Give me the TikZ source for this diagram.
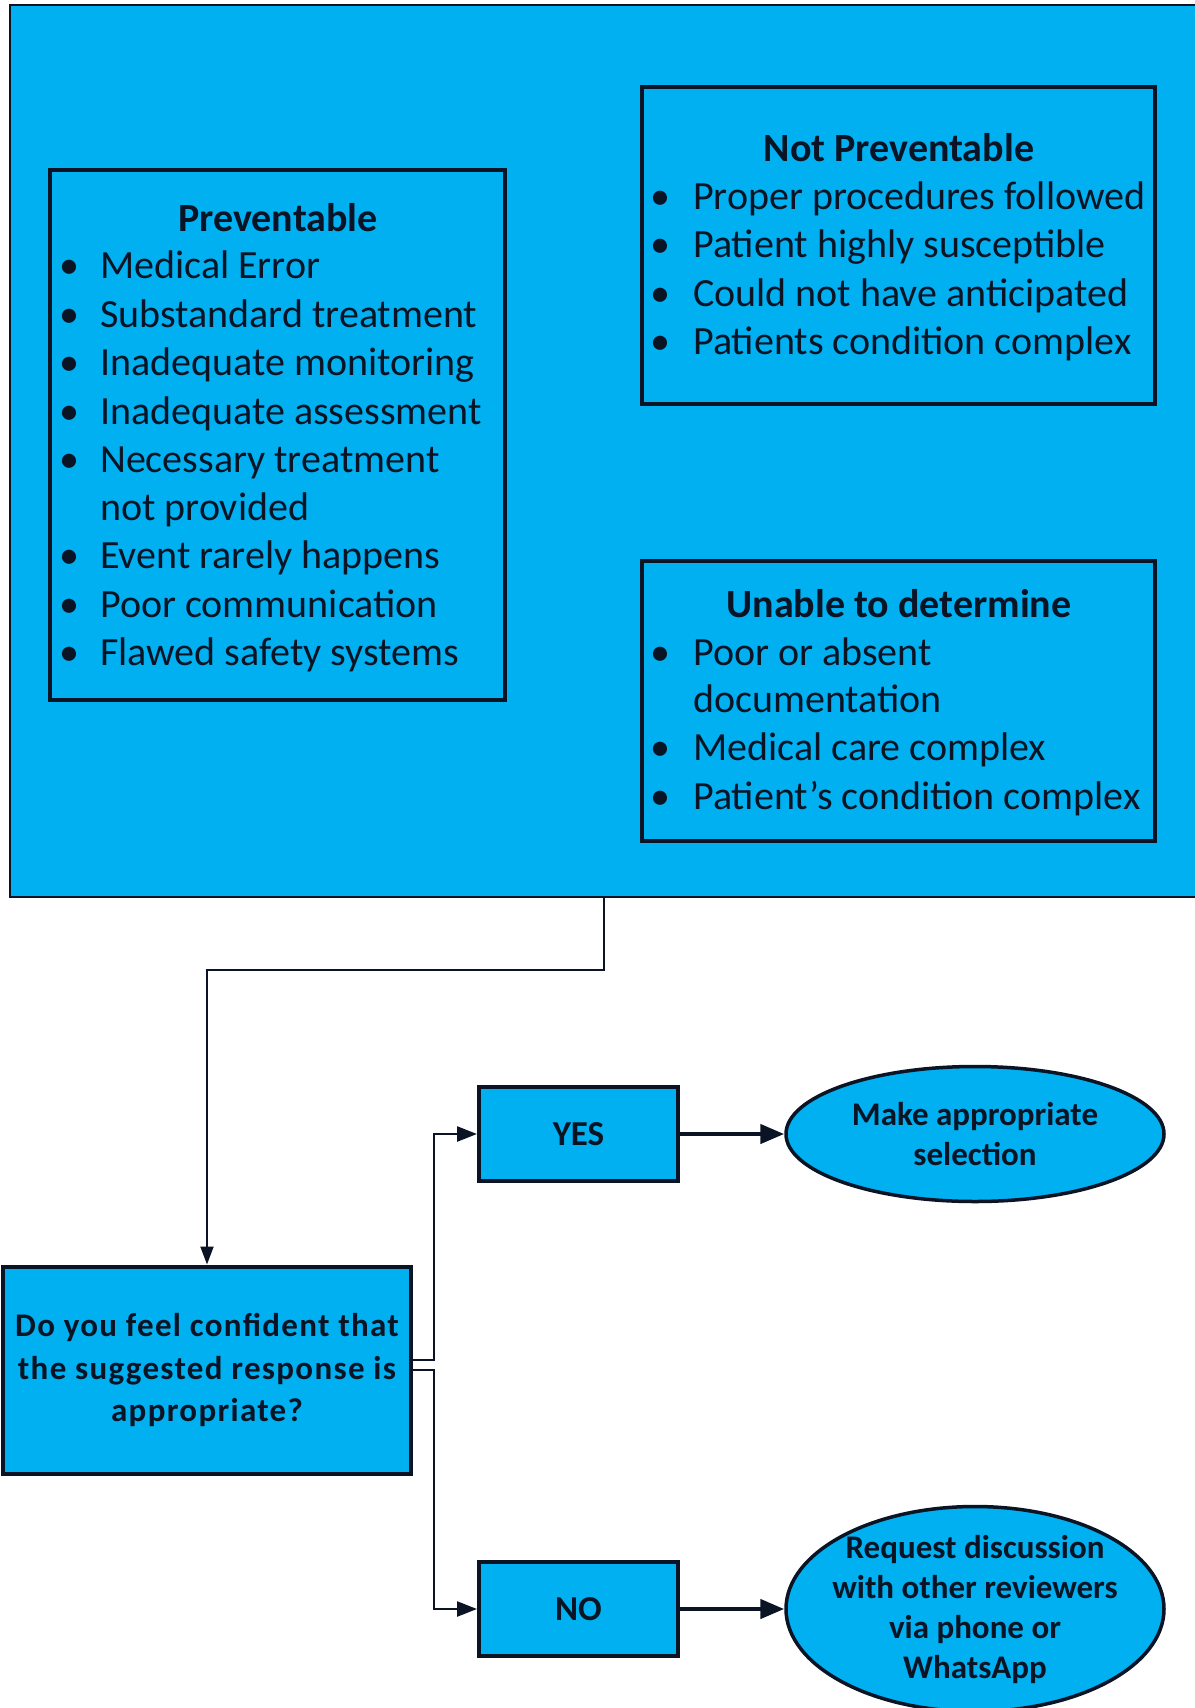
\documentclass[tikz,border=0pt]{standalone}
\usepackage{fontspec}
\setmainfont{Carlito}
\usetikzlibrary{arrows.meta,shapes.geometric}
\definecolor{panel}{RGB}{0,176,240}
\definecolor{ink}{RGB}{10,20,36}

\begin{document}
\begin{tikzpicture}[x=1pt,y=-1pt,
  outer/.style={draw=ink, line width=1.5pt, fill=panel, rectangle, inner sep=0pt},
  listbox/.style={draw=ink, line width=4pt, fill=panel, rectangle, inner sep=0pt},
  stepbox/.style={draw=ink, line width=4pt, fill=panel, rectangle, inner sep=0pt,
    text=ink, align=center},
  endbox/.style={draw=ink, line width=3.5pt, fill=panel, ellipse, inner sep=0pt},
  endtext/.style={text=ink, align=center, inner sep=0pt,
    font=\fontsize{33}{40}\selectfont\bfseries},
  heading/.style={text=ink, inner sep=0pt, font=\fontsize{40}{48}\selectfont\bfseries},
  bul/.style={text=ink, inner sep=0pt, anchor=mid, font=\fontsize{40}{48}\selectfont},
  item/.style={text=ink, inner sep=0pt, anchor=mid west, font=\fontsize{40}{48}\selectfont},
  feed/.style={draw=ink, line width=2pt, -{Triangle[length=18pt,width=13pt]}},
  split/.style={draw=ink, line width=2.5pt, -{Triangle[length=20pt,width=15pt]}},
  lead/.style={draw=ink, line width=4.5pt, -{Triangle[length=24pt,width=19pt]}}
]
\useasboundingbox (0,0) rectangle (1194,1708);
\fill[white] (0,0) rectangle (1194,1708);

% upper panel holding the three outcome lists
\node[outer, minimum width=1200pt, minimum height=892pt] (panel) at (610,451) {};

% Preventable
\node[listbox, minimum width=455pt, minimum height=530pt] (prev) at (277.5,435) {};
\node[heading] (prevt) at (278,218) {Preventable};
\foreach \y/\t [count=\i] in {276/Medical Error, 325/Substandard treatment,
    373/Inadequate monitoring, 422/Inadequate assessment,
    470/Necessary treatment, 566/Event rarely happens,
    615/Poor communication, 663/Flawed safety systems} {
  \node[bul] (pb\i) at (69,\y) {•};
  \node[item] (pi\i) at (100,\y) {\t};
}
\node[item] (pcont) at (100,518) {not provided};

% Not Preventable
\node[listbox, minimum width=513pt, minimum height=317pt] (notp) at (898.5,245.5) {};
\node[heading] (notpt) at (899,148) {Not Preventable};
\foreach \y/\t [count=\i] in {207/Proper procedures followed, 255/Patient highly susceptible,
    304/Could not have anticipated, 352/Patients condition complex} {
  \node[bul] (nb\i) at (660,\y) {•};
  \node[item] (ni\i) at (693,\y) {\t};
}

% Unable to determine
\node[listbox, minimum width=513pt, minimum height=280pt] (unab) at (898.5,701) {};
\node[heading] (unabt) at (899,604) {Unable to determine};
\foreach \y/\t [count=\i] in {663/Poor or absent, 758/Medical care complex,
    807/Patient’s condition complex} {
  \node[bul] (ub\i) at (660,\y) {•};
  \node[item] (ui\i) at (693,\y) {\t};
}
\node[item] (ucont) at (693,710) {documentation};

% decision flow
\node[stepbox, minimum width=408pt, minimum height=207pt,
  font=\fontsize{33}{42.5}\selectfont\bfseries\addfontfeatures{LetterSpace=4}] (q) at (207,1370)
  {Do you feel confident that\\the suggested response is\\appropriate?};
\node[stepbox, minimum width=199pt, minimum height=94pt,
  font=\fontsize{35}{40}\selectfont\bfseries] (yes) at (578.5,1134) {YES};
\node[stepbox, minimum width=199pt, minimum height=94pt,
  font=\fontsize{35}{40}\selectfont\bfseries] (no) at (578.5,1609) {NO};

% outcome ellipses with their wording
\node[endbox, minimum width=378pt, minimum height=135pt] (sel) at (975,1134) {};
\node[endtext] (selt) at (sel.center) {Make appropriate\\selection};
\node[endbox, minimum width=378pt, minimum height=205pt] (req) at (975,1609) {};
\node[endtext] (reqt) at (req.center) {Request discussion\\with other reviewers\\via phone or\\WhatsApp};

% connectors
\coordinate (bend) at (604,970);
\draw[feed] (bend |- panel.south) -- (bend) -| (q.north);
\coordinate (fork) at (434,1365);
\draw[split] ([yshift=5pt]q.east |- fork) -- ([yshift=5pt]fork) |- (yes.west);
\draw[split] ([yshift=-5pt]q.east |- fork) -- ([yshift=-5pt]fork) |- (no.west);
\draw[lead] (yes.east) -- (sel.west);
\draw[lead] (no.east) -- (req.west);
\end{tikzpicture}
\end{document}
